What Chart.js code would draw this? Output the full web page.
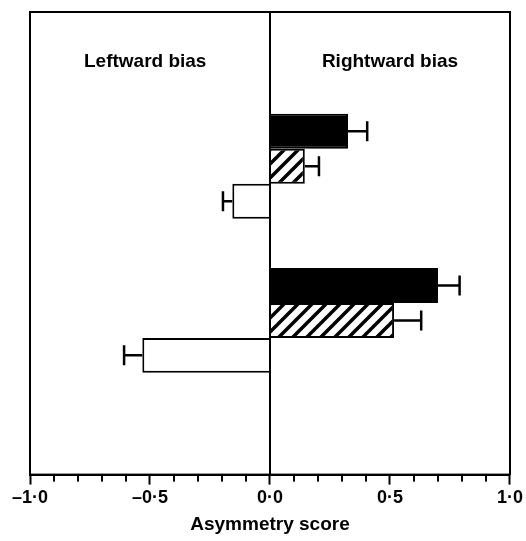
<!DOCTYPE html>
<html>
<head>
<meta charset="utf-8">
<script src="https://cdn.jsdelivr.net/npm/chart.js@4.4.1/dist/chart.umd.min.js"></script>
<style>
  html, body { margin: 0; padding: 0; background: #fff; }
  #wrap { width: 526px; height: 541px; }
</style>
</head>
<body>
<div id="wrap"><canvas id="chart-asym"></canvas></div>
<script>
// groups on the y axis (blank slots at the ends keep the spacing)
var groups = ['', 'Group 1', 'Group 2', ''];
// bar values (asymmetry score)
var black_vals = [null, 0.325, 0.70, null];
var hatch_vals = [null, 0.145, 0.517, null];
var white_vals = [null, -0.157, -0.532, null];
// ends of the error bars
var black_err = [null, 0.405, 0.79, null];
var hatch_err = [null, 0.204, 0.63, null];
var white_err = [null, -0.196, -0.608, null];
var x_ticks = [-1.0, -0.5, 0.0, 0.5, 1.0];
var side_labels = ['Leftward bias', 'Rightward bias'];

var FONT = '"Liberation Sans", Arial, sans-serif';

function fmt(v) {
	var s = Math.abs(v).toFixed(1).replace('.', '\u00B7');
	return (v < 0 ? '\u2013' : '') + s;
}

function hatchPattern() {
	var c = document.createElement('canvas');
	c.width = 14; c.height = 14;
	var g = c.getContext('2d');
	g.fillStyle = '#fff';
	g.fillRect(0, 0, 14, 14);
	g.strokeStyle = '#000';
	g.lineWidth = 3.5;
	g.beginPath();
	g.moveTo(-7, 7); g.lineTo(7, -7);
	g.moveTo(0, 14); g.lineTo(14, 0);
	g.moveTo(7, 21); g.lineTo(21, 7);
	g.stroke();
	return g.createPattern(c, 'repeat');
}

// box, zero line, minor ticks, side labels and error bars
var extrasPlugin = {
	id: 'extras',
	afterDatasetsDraw: function(chart) {
		var ctx = chart.ctx;
		var a = chart.chartArea;
		var xs = chart.scales.x;
		ctx.save();
		ctx.strokeStyle = '#000';
		ctx.lineWidth = 2;
		ctx.strokeRect(a.left, a.top, a.right - a.left, a.bottom - a.top);
		var x0 = Math.round(xs.getPixelForValue(0));
		ctx.beginPath();
		ctx.moveTo(x0, a.top);
		ctx.lineTo(x0, a.bottom);
		ctx.stroke();

		// minor ticks every 0.1
		for (var i = -10; i <= 10; i++) {
			if (i % 5 === 0) continue;
			var px = xs.getPixelForValue(i / 10);
			ctx.beginPath();
			ctx.moveTo(px, a.bottom);
			ctx.lineTo(px, a.bottom + 7);
			ctx.stroke();
		}

		// error bars
		var errs = [black_err, hatch_err, white_err];
		ctx.lineWidth = 2.5;
		chart.data.datasets.forEach(function(ds, di) {
			var meta = chart.getDatasetMeta(di);
			meta.data.forEach(function(bar, j) {
				var e = errs[di][j];
				if (e === null || ds.data[j] === null) return;
				var ex = xs.getPixelForValue(e);
				ctx.beginPath();
				ctx.moveTo(bar.x, bar.y);
				ctx.lineTo(ex, bar.y);
				ctx.moveTo(ex, bar.y - 10);
				ctx.lineTo(ex, bar.y + 10);
				ctx.stroke();
			});
		});

		ctx.fillStyle = '#000';
		ctx.font = 'bold 19px ' + FONT;
		ctx.textAlign = 'center';
		ctx.textBaseline = 'middle';
		ctx.fillText(side_labels[0], xs.getPixelForValue(-0.52), a.top + 50);
		ctx.fillText(side_labels[1], xs.getPixelForValue(0.5), a.top + 50);
		ctx.restore();
	}
};

var barStyle = {
	borderColor: '#000',
	borderWidth: 2,
	categoryPercentage: 0.68,
	barPercentage: 1.0
};

var configChartAsym = {
	type: 'bar',
	data: {
		labels: groups,
		datasets: [
			Object.assign({ data: black_vals, backgroundColor: '#000' }, barStyle),
			Object.assign({ data: hatch_vals, backgroundColor: hatchPattern() }, barStyle),
			Object.assign({ data: white_vals, backgroundColor: '#fff' }, barStyle)
		]
	},
	options: {
		indexAxis: 'y',
		responsive: true,
		maintainAspectRatio: false,
		animation: false,
		layout: {
			padding: { top: 12, left: 30, right: 15, bottom: 5 }
		},
		plugins: {
			legend: { display: false },
			tooltip: { enabled: false }
		},
		scales: {
			y: {
				display: false,
				offset: false
			},
			x: {
				type: 'linear',
				min: -1,
				max: 1,
				afterBuildTicks: function(scale) {
					scale.ticks = x_ticks.map(function(v) { return { value: v }; });
				},
				grid: {
					drawOnChartArea: false,
					tickLength: 10,
					tickWidth: 2,
					tickColor: '#000'
				},
				border: { display: true, color: '#000', width: 2 },
				ticks: {
					color: '#000',
					padding: 3,
					maxRotation: 0,
					font: { family: FONT, size: 18, weight: 'bold' },
					callback: function(v) { return fmt(v); }
				},
				title: {
					display: true,
					text: 'Asymmetry score',
					color: '#000',
					padding: { top: 1, bottom: 0 },
					font: { family: FONT, size: 19, weight: 'bold' }
				}
			}
		}
	},
	plugins: [extrasPlugin]
};

var ctx = document.getElementById('chart-asym').getContext('2d');
window.chartAsym = new Chart(ctx, configChartAsym);
</script>
</body>
</html>
